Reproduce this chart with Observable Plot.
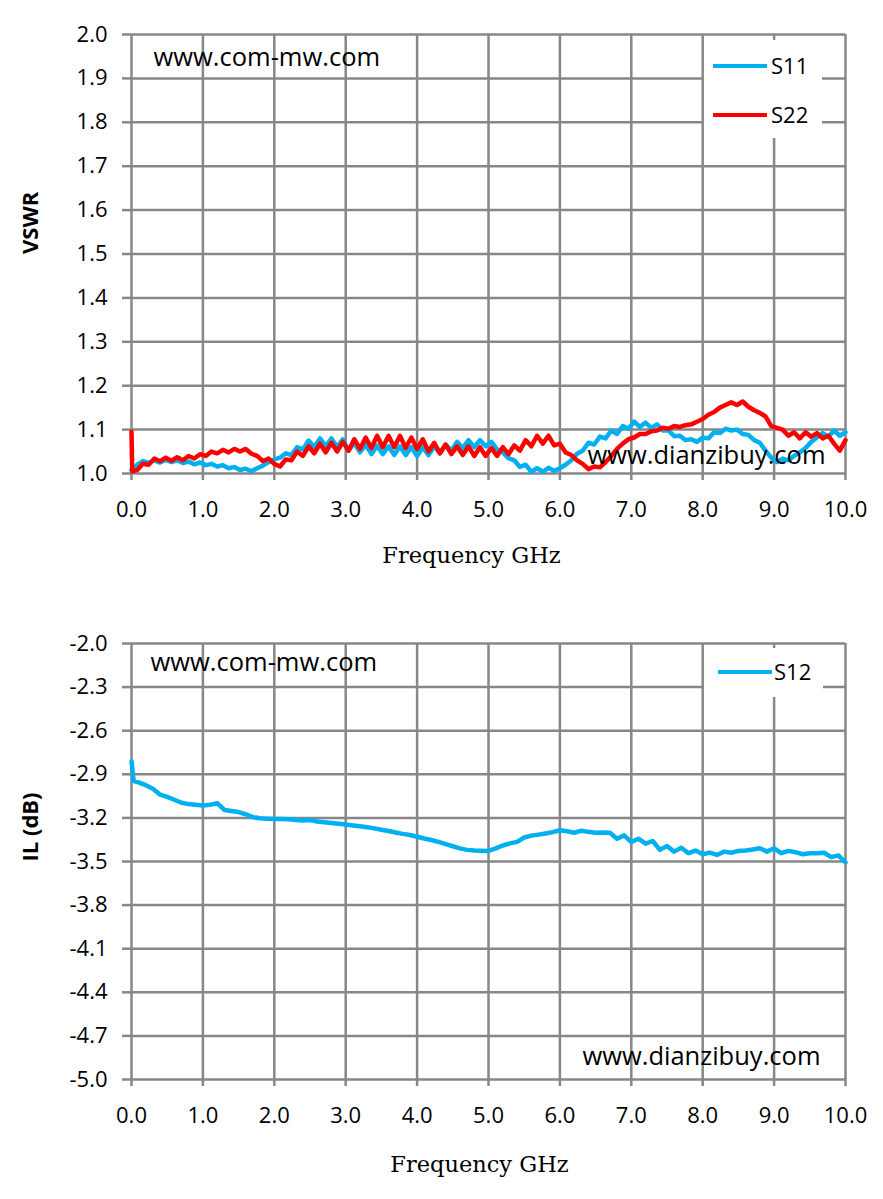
<!DOCTYPE html>
<html><head><meta charset="utf-8">
<script src="https://cdn.jsdelivr.net/npm/d3@7"></script>
<script src="https://cdn.jsdelivr.net/npm/@observablehq/plot@0.6"></script>
<style>
body{margin:0;background:#fff;}
#wrap{position:relative;width:883px;height:1199px;background:#fff;overflow:hidden;}
#wrap svg{display:block;}
.lg{position:absolute;background:#fff;}
.lg .ln{position:absolute;height:4px;}
.lg .tx{position:absolute;font-family:"Open Sans",sans-serif;font-size:22px;color:#000;line-height:22px;}
</style></head><body><div id="wrap"></div>
<script>
// ---- data ----
const freq = [0,0.01,0.08,0.16,0.24,0.32,0.40,0.48,0.56,0.64,0.72,0.80,0.88,0.96,1.04,1.12,1.20,1.28,1.36,1.44,1.52,1.60,1.68,1.76,1.84,1.92,2.00,2.08,2.16,2.24,2.32,2.40,2.48,2.56,2.64,2.72,2.80,2.88,2.96,3.04,3.12,3.20,3.28,3.36,3.44,3.52,3.60,3.68,3.76,3.84,3.92,4.00,4.08,4.16,4.24,4.32,4.40,4.48,4.56,4.64,4.72,4.80,4.88,4.96,5.04,5.12,5.20,5.28,5.36,5.44,5.52,5.60,5.68,5.76,5.84,5.92,6.00,6.08,6.16,6.24,6.32,6.40,6.48,6.56,6.64,6.72,6.80,6.88,6.96,7.04,7.12,7.20,7.28,7.36,7.44,7.52,7.60,7.68,7.76,7.84,7.92,8.00,8.08,8.16,8.24,8.32,8.40,8.48,8.56,8.64,8.72,8.80,8.88,8.96,9.04,9.12,9.20,9.28,9.36,9.44,9.52,9.60,9.68,9.76,9.84,9.92,10.00];
const s11 = [1.008,1.006,
1.020,1.028,1.024,1.030,1.025,1.031,1.026,1.030,1.024,1.027,
1.021,1.025,1.019,1.022,1.016,1.019,1.012,1.015,1.008,1.011,
1.005,1.012,1.018,1.026,1.032,1.036,1.046,1.042,1.060,1.055,
1.075,1.060,1.080,1.062,1.080,1.060,1.078,1.052,1.070,1.048,
1.066,1.044,1.064,1.044,1.062,1.042,1.062,1.042,1.060,1.040,
1.060,1.042,1.062,1.046,1.066,1.052,1.072,1.058,1.076,1.060,
1.076,1.062,1.072,1.055,1.048,1.035,1.030,1.015,1.020,1.004,
1.012,1.004,1.013,1.006,1.012,1.020,1.030,1.045,1.052,1.070,
1.066,1.084,1.080,1.098,1.090,1.108,1.102,1.118,1.106,1.116,
1.104,1.112,1.098,1.098,1.085,1.086,1.076,1.078,1.072,1.082,
1.080,1.094,1.092,1.102,1.098,1.100,1.090,1.088,1.076,1.070,
1.052,1.036,1.026,1.034,1.030,1.040,1.048,1.058,1.072,1.082,
1.092,1.084,1.098,1.086,1.094];
const s22 = [1.095,1.005,
1.008,1.022,1.020,1.034,1.028,1.036,1.029,1.037,1.030,1.040,
1.034,1.044,1.040,1.050,1.046,1.054,1.048,1.056,1.050,1.056,
1.045,1.040,1.028,1.034,1.022,1.016,1.032,1.030,1.050,1.040,
1.062,1.046,1.068,1.048,1.070,1.050,1.072,1.052,1.078,1.056,
1.082,1.058,1.086,1.060,1.086,1.060,1.086,1.058,1.082,1.056,
1.078,1.050,1.070,1.046,1.066,1.044,1.062,1.042,1.062,1.040,
1.060,1.040,1.058,1.040,1.060,1.044,1.064,1.052,1.076,1.062,
1.086,1.068,1.086,1.064,1.068,1.048,1.042,1.030,1.022,1.010,
1.016,1.014,1.026,1.040,1.056,1.068,1.078,1.082,1.090,1.090,
1.096,1.098,1.104,1.102,1.108,1.106,1.110,1.112,1.118,1.124,
1.134,1.140,1.150,1.156,1.162,1.156,1.164,1.152,1.144,1.138,
1.130,1.108,1.104,1.100,1.086,1.094,1.080,1.094,1.084,1.092,
1.080,1.086,1.068,1.052,1.076];
const freqIL = [0,0.03,0.1,0.2,0.3,0.4,0.5,0.6,0.7,0.8,0.9,1.0,1.1,1.2,1.3,1.4,1.5,1.6,1.7,1.8,1.9,2.0,2.1,2.2,2.3,2.4,2.5,2.6,2.7,2.8,2.9,3.0,3.1,3.2,3.3,3.4,3.5,3.6,3.7,3.8,3.9,4.0,4.1,4.2,4.3,4.4,4.5,4.6,4.7,4.8,4.9,5.0,5.1,5.2,5.3,5.4,5.5,5.6,5.7,5.8,5.9,6.0,6.1,6.2,6.3,6.4,6.5,6.6,6.7,6.8,6.9,7.0,7.1,7.2,7.3,7.4,7.5,7.6,7.7,7.8,7.9,8.0,8.1,8.2,8.3,8.4,8.5,8.6,8.7,8.8,8.9,9.0,9.1,9.2,9.3,9.4,9.5,9.6,9.7,9.8,9.9,10.0];
const s12 = [-2.81,-2.946,-2.955,-2.975,-3.00,-3.04,-3.055,-3.075,-3.096,-3.105,-3.11,-3.115,
-3.11,-3.098,-3.145,-3.152,-3.16,-3.175,-3.195,-3.203,-3.205,-3.207,
-3.208,-3.21,-3.214,-3.218,-3.214,-3.225,-3.23,-3.235,-3.24,-3.246,
-3.252,-3.258,-3.265,-3.272,-3.282,-3.29,-3.30,-3.31,-3.318,-3.33,
-3.342,-3.352,-3.365,-3.38,-3.395,-3.41,-3.42,-3.425,-3.426,-3.427,
-3.41,-3.39,-3.375,-3.365,-3.335,-3.322,-3.315,-3.307,-3.298,-3.285,
-3.292,-3.302,-3.288,-3.296,-3.302,-3.30,-3.302,-3.343,-3.32,-3.366,
-3.343,-3.377,-3.359,-3.42,-3.393,-3.432,-3.405,-3.443,-3.425,-3.45,
-3.439,-3.455,-3.432,-3.44,-3.427,-3.425,-3.418,-3.409,-3.432,-3.409,
-3.443,-3.427,-3.436,-3.45,-3.443,-3.443,-3.44,-3.47,-3.458,-3.507];
const xTicks = [0,1,2,3,4,5,6,7,8,9,10];
const vswrTicks = [1.0,1.1,1.2,1.3,1.4,1.5,1.6,1.7,1.8,1.9,2.0];
const ilTicks = [-2.0,-2.3,-2.6,-2.9,-3.2,-3.5,-3.8,-4.1,-4.4,-4.7,-5.0];
const seriesTop = ["S11","S22"];
const seriesBottom = ["S12"];
const colors = {S11:"#00B0F0", S22:"#FF0000", S12:"#00B0F0"};
const wm1 = "www.com-mw.com";
const wm2 = "www.dianzibuy.com";
const xTitle = "Frequency GHz";
const yTitleTop = "VSWR";
const yTitleBottom = "IL (dB)";

// ---- build ----
const GRID = "#878787";
const fmt = d => d.toFixed(1);
const gridOpts = {stroke: GRID, strokeOpacity: 1, strokeWidth: 2.5};
const axisCommon = {stroke: GRID, strokeOpacity: 1, strokeWidth: 2.5, fill: "#000", fontSize: 22, tickFormat: fmt, label: null};
const lineOpts = {strokeWidth: 4.5, strokeLinejoin: "round", strokeLinecap: "round"};
const style = {fontFamily: "'Open Sans', sans-serif", fontSize: "22px", color: "#000", background: "#fff", overflow: "visible"};
const serif = "'DejaVu Serif', serif";

const topData = {
  S11: freq.map((f, i) => ({f, v: s11[i]})),
  S22: freq.map((f, i) => ({f, v: s22[i]}))
};
const bottomData = freqIL.map((f, i) => ({f, v: s12[i]}));

const topPlot = Plot.plot({
  width: 883, height: 600,
  marginLeft: 131, marginRight: 38, marginTop: 34, marginBottom: 127,
  style,
  x: {domain: [0, 10]},
  y: {domain: [1, 2]},
  marks: [
    Plot.gridX(xTicks, gridOpts),
    Plot.gridY(vswrTicks, gridOpts),
    Plot.axisY(vswrTicks, {...axisCommon, tickSize: 9, tickPadding: 15}),
    Plot.axisX(xTicks, {...axisCommon, tickSize: 7, tickPadding: 21}),
    ...seriesTop.map(s => Plot.line(topData[s], {x: "f", y: "v", stroke: colors[s], ...lineOpts})),
    Plot.text([wm1], {frameAnchor: "top-left", lineAnchor: "middle", dx: 22, dy: 23, textAnchor: "start", fontSize: 25.5, fill: "#000"}),
    Plot.text([wm2], {frameAnchor: "bottom-right", lineAnchor: "middle", dx: -20, dy: -18, textAnchor: "end", fontSize: 25.5, fill: "#000"}),
    Plot.text([yTitleTop], {frameAnchor: "left", lineAnchor: "middle", dx: -101, rotate: -90, fontWeight: "bold", fontSize: 22, fill: "#000"}),
    Plot.text([xTitle], {frameAnchor: "bottom", lineAnchor: "middle", dx: -17, dy: 82, fontFamily: serif, fontSize: 22.5, fill: "#000"})
  ]
});

const bottomPlot = Plot.plot({
  width: 883, height: 599,
  marginLeft: 131, marginRight: 38, marginTop: 43, marginBottom: 120,
  style,
  x: {domain: [0, 10]},
  y: {domain: [-5, -2]},
  marks: [
    Plot.gridX(xTicks, gridOpts),
    Plot.gridY(ilTicks, gridOpts),
    Plot.axisY(ilTicks, {...axisCommon, tickSize: 9, tickPadding: 15}),
    Plot.axisX(xTicks, {...axisCommon, tickSize: 7, tickPadding: 21}),
    Plot.line(bottomData, {x: "f", y: "v", stroke: colors.S12, ...lineOpts}),
    Plot.text([wm1], {frameAnchor: "top-left", lineAnchor: "middle", dx: 19, dy: 19, textAnchor: "start", fontSize: 25.5, fill: "#000"}),
    Plot.text([wm2], {frameAnchor: "bottom-right", lineAnchor: "middle", dx: -25, dy: -23, textAnchor: "end", fontSize: 25.5, fill: "#000"}),
    Plot.text([yTitleBottom], {frameAnchor: "left", lineAnchor: "middle", dx: -101, rotate: -90, fontWeight: "bold", fontSize: 22, fill: "#000"}),
    Plot.text([xTitle], {frameAnchor: "bottom", lineAnchor: "middle", dx: -9, dy: 85, fontFamily: serif, fontSize: 22.5, fill: "#000"})
  ]
});

const wrap = document.getElementById("wrap");
wrap.appendChild(topPlot);
wrap.appendChild(bottomPlot);

// legends (HTML overlay boxes)
function legend(names, box, rows) {
  const d = document.createElement("div");
  d.className = "lg";
  Object.assign(d.style, {left: box.left + "px", top: box.top + "px", width: box.w + "px", height: box.h + "px"});
  names.forEach((n, i) => {
    const ln = document.createElement("div");
    ln.className = "ln";
    Object.assign(ln.style, {left: rows.lx + "px", width: rows.lw + "px", top: (rows.y0 + i * rows.dy - 2) + "px", background: colors[n]});
    const tx = document.createElement("div");
    tx.className = "tx";
    tx.textContent = n;
    Object.assign(tx.style, {left: rows.tx + "px", top: (rows.y0 + i * rows.dy - 12) + "px"});
    d.appendChild(ln); d.appendChild(tx);
  });
  wrap.appendChild(d);
}
legend(seriesTop, {left: 704, top: 40, w: 118, h: 98}, {lx: 9, lw: 54, tx: 67, y0: 26, dy: 49});
legend(seriesBottom, {left: 704, top: 648, w: 119, h: 49}, {lx: 14, lw: 54, tx: 70, y0: 24, dy: 0});
</script></body></html>
